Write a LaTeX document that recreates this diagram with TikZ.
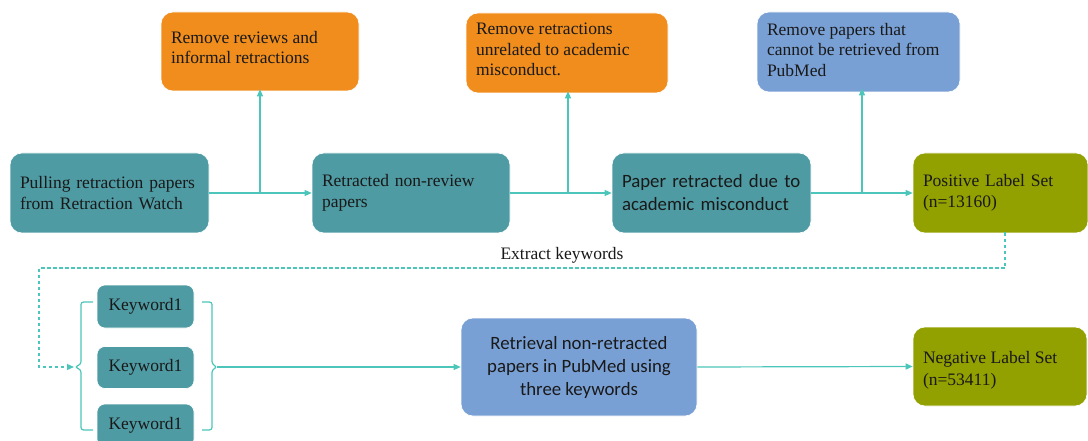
\documentclass[tikz,border=0pt]{standalone}
\usepackage{fontspec}
\setmainfont{Liberation Serif}
\newfontfamily\carl{Carlito}
\usetikzlibrary{arrows.meta}
\definecolor{tealbox}{RGB}{79,155,163}
\definecolor{orangebox}{RGB}{240,141,28}
\definecolor{bluebox}{RGB}{121,160,213}
\definecolor{olivebox}{RGB}{146,160,0}
\definecolor{linec}{RGB}{76,198,186}
\definecolor{txt}{RGB}{25,25,25}
\tikzset{
  box/.style={draw=white, line width=0.6pt, rounded corners=12pt, text=txt, font=\fontsize{17.5}{20.5}\selectfont, inner sep=0pt},
  sansfont/.style={font=\carl\fontsize{18.8}{23}\selectfont},
  conn/.style={draw=linec, line width=1.2pt, -{Triangle[length=7pt,width=6pt]}},
  plain/.style={draw=linec, line width=1.2pt},
}
\begin{document}
\begin{tikzpicture}[x=1pt,y=-1pt]
\useasboundingbox (0,0) rectangle (1088,441);
\begin{scope}
\clip (0,0) rectangle (1088,441);
% top row
\node[box, fill=tealbox, minimum width=199, minimum height=80, align=left, text width=179] (pull) at (109.5,193) {Pulling retraction papers\\from Retraction Watch};
\node[box, fill=tealbox, minimum width=198, minimum height=80, align=left, text width=178] (nonrev) at (411,193) {Retracted non-review\\papers};
\node[box, fill=tealbox, minimum width=199, minimum height=80, align=left, text width=179, sansfont] (misc) at (711.5,193) {Paper retracted due to\\academic misconduct};
\node[box, fill=olivebox, minimum width=175, minimum height=80, align=left, text width=155] (pos) at (1000.5,193) {Positive Label Set\\(n=13160)};
% removal boxes
\node[box, fill=orangebox, minimum width=198, minimum height=79] (rr) at (260,51.5) {\parbox[t][79pt][t]{178pt}{\vspace*{19pt}Remove reviews and\\informal retractions}};
\node[box, fill=orangebox, minimum width=202, minimum height=80] (ru) at (567,53) {\parbox[t][80pt][t]{182pt}{\vspace*{10pt}Remove retractions\\unrelated to academic\\misconduct.}};
\node[box, fill=bluebox, minimum width=203, minimum height=80] (rp) at (858.5,52) {\parbox[t][80pt][t]{183pt}{\vspace*{11pt}Remove papers that\\cannot be retrieved from\\PubMed}};
% keywords
\node[box, fill=tealbox, minimum width=97, minimum height=43, rounded corners=8pt] (k1) at (145.5,306.5) {Keyword1};
\node[box, fill=tealbox, minimum width=97, minimum height=42, rounded corners=8pt] (k2) at (145.5,367.5) {Keyword1};
\node[box, fill=tealbox, minimum width=97, minimum height=43, rounded corners=8pt] (k3) at (145.5,425.5) {Keyword1};
% bottom row
\node[box, fill=bluebox, minimum width=236, minimum height=98, align=center, sansfont] (ret) at (579,367) {Retrieval non-retracted\\papers in PubMed using\\three keywords};
\node[box, fill=olivebox, minimum width=174, minimum height=79] (neg) at (1000,366.5) {\parbox[t][79pt][t]{154pt}{\vspace*{24pt}Negative Label Set\\[1.5pt](n=53411)}};
\end{scope}
% connectors top row
\coordinate (j1) at (260,193);
\coordinate (j2) at (568,193);
\coordinate (j3) at (862,193);
\draw[conn] (pull.east) -- (nonrev.west);
\draw[conn] (nonrev.east) -- (misc.west);
\draw[conn] (misc.east) -- (pos.west);
\draw[conn] (j1) -- ([yshift=2pt]j1 |- rr.south);
\draw[conn] (j2) -- ([yshift=2pt]j2 |- ru.south);
\draw[conn] (j3) -- ([yshift=4pt]j3 |- rp.south);
% dashed feedback
\coordinate (d0) at (1005,232.5);
\coordinate (lb) at (74,367);
\draw[conn, dash pattern=on 3.5pt off 2.5pt] (d0) -- (1005,268) -- (39,268) -- (39,367) -- (lb);
\node[font=\fontsize{17.5}{20}\selectfont, text=txt] (ek) at (562,255) {Extract keywords};
% brackets
\draw[plain, rounded corners=2.5pt] (93,302) -- (81,302) -- (81,364) -- (75,367) -- (81,370) -- (81,430) -- (93,430);
\coordinate (rb) at (217,367);
\draw[plain, rounded corners=2.5pt] (202,302) -- (212,302) -- (212,364) -- (rb) -- (212,370) -- (212,430) -- (202,430);
\draw[conn] (rb) -- (ret.west);
\draw[conn] (ret.east) -- (neg.west);
\end{tikzpicture}
\end{document}
